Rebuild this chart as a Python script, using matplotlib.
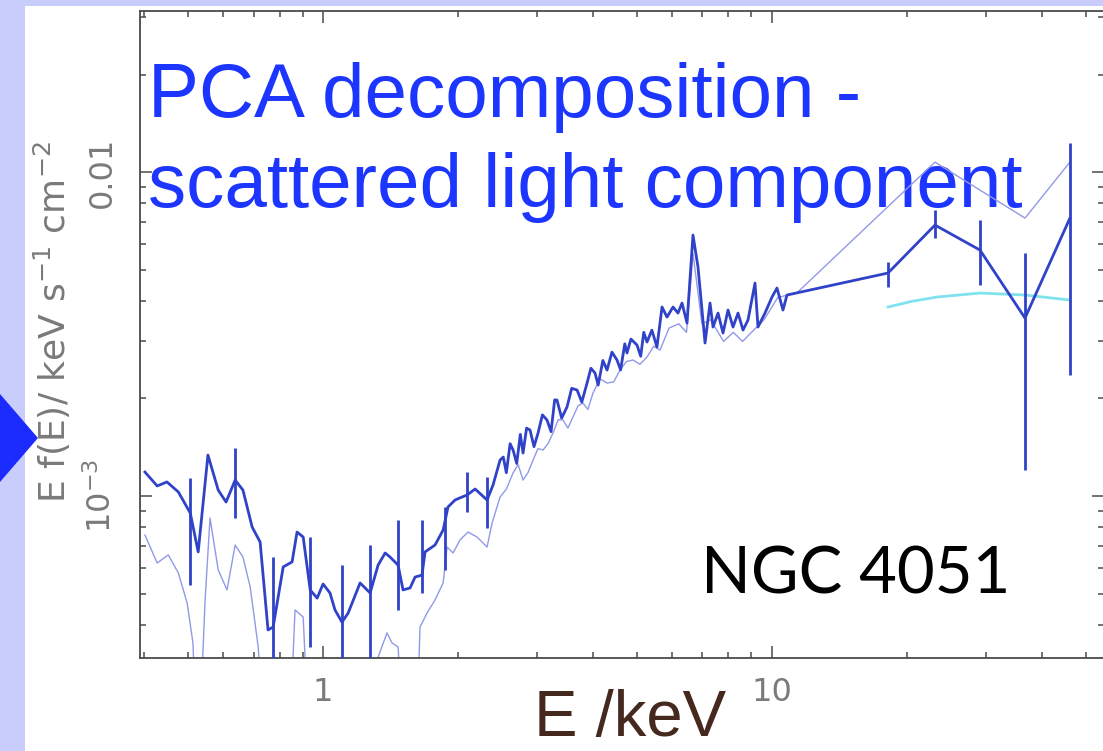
"""NGC 4051 PCA decomposition: scattered light component (E f(E) spectrum)."""

import matplotlib
matplotlib.use("Agg")
import matplotlib.pyplot as plt  # noqa: E402
import numpy as np  # noqa: E402
from matplotlib.patches import Polygon, Rectangle  # noqa: E402
from matplotlib.ticker import FixedFormatter, FixedLocator, LogLocator, NullFormatter  # noqa: E402

plt.rcParams["font.family"] = ["DejaVu Sans"]

W, H = 1103, 751

SLIDE_BG = "#c9cdfb"
TITLE_BLUE = "#1c35ff"
DATA_BLUE = "#3042c8"
THIN_BLUE = "#9199e8"
CYAN = "#80e2ee"
AXIS_GREY = "#4a4a4a"
LABEL_GREY = "#7a7a7a"
BROWN = "#45291f"

# scattered-light spectrum (energy in keV, E f(E) in units of 1e-3)
dark_e = [0.401, 0.427, 0.449, 0.476, 0.506, 0.527, 0.554, 0.584, 0.608, 0.637,
          0.663, 0.695, 0.724, 0.754, 0.774, 0.815, 0.853, 0.875, 0.903, 0.936,
          0.970, 1.000, 1.036, 1.063, 1.102, 1.137, 1.209, 1.273, 1.326, 1.375,
          1.410, 1.469, 1.507, 1.562, 1.603, 1.661, 1.687, 1.776, 1.851, 1.898,
          1.968, 2.040, 2.093, 2.181, 2.319, 2.391, 2.479, 2.52, 2.56, 2.61,
          2.650, 2.70, 2.75, 2.789, 2.84, 2.891, 2.95, 3.012, 3.08, 3.154,
          3.22, 3.28, 3.319, 3.40, 3.494, 3.58, 3.679, 3.77, 3.873, 3.95,
          4.034, 4.10, 4.20, 4.291, 4.40, 4.516, 4.60, 4.70, 4.753, 4.85,
          5.004, 5.10, 5.18, 5.267, 5.40, 5.543, 5.689, 5.837, 6.019, 6.175,
          6.303, 6.467, 6.668, 6.842, 6.984, 7.093, 7.277, 7.390, 7.582, 7.779,
          7.981, 8.188, 8.401, 8.619, 8.842, 9.165, 9.307, 9.647, 10.0, 10.26,
          10.58, 10.80, 18.13, 23.07, 29.06, 36.61, 46.10]
dark_f = [1.186, 1.074, 1.105, 1.029, 0.886, 0.672, 1.338, 1.043, 0.958, 1.120,
          1.043, 0.802, 0.721, 0.386, 0.394, 0.604, 0.626, 0.774, 0.747, 0.513,
          0.484, 0.535, 0.502, 0.445, 0.408, 0.435, 0.539, 0.502, 0.612, 0.667,
          0.648, 0.612, 0.513, 0.520, 0.562, 0.570, 0.672, 0.706, 0.785, 0.925,
          0.972, 0.993, 1.007, 1.051, 0.972, 1.081, 1.291, 1.319, 1.18, 1.45,
          1.387, 1.26, 1.55, 1.357, 1.62, 1.598, 1.42, 1.564, 1.78, 1.716,
          1.58, 1.98, 1.978, 1.74, 1.882, 2.15, 2.124, 1.95, 2.232, 2.48,
          2.397, 2.20, 2.62, 2.448, 2.78, 2.629, 2.45, 2.95, 2.763, 3.05,
          2.924, 2.70, 3.20, 2.987, 3.25, 2.883, 3.831, 3.567, 3.831, 3.670,
          3.941, 3.419, 6.389, 5.090, 3.750, 2.966, 3.941, 3.323, 3.670, 3.184,
          3.750, 3.323, 3.670, 3.252, 3.492, 4.543, 3.323, 3.670, 4.113, 4.385,
          3.750, 4.172, 4.878, 6.859, 5.743, 3.542, 7.209]

# error bars on selected bins (same units)
err_e = [0.506, 0.637, 0.774, 0.936, 1.102, 1.273, 1.469, 1.661, 1.870, 2.093,
         2.319, 18.13, 23.07, 29.06, 36.61, 46.10]
err_lo = [0.531, 0.855, 0.25, 0.342, 0.25, 0.25, 0.445, 0.502, 0.591, 0.892,
          0.796, 4.416, 6.256, 4.479, 1.203, 2.362]
err_hi = [1.137, 1.406, 0.648, 0.747, 0.612, 0.706, 0.843, 0.843, 0.925, 1.186,
          1.145, 5.275, 7.632, 7.109, 5.623, 12.29]

# faint comparison spectrum
thin_e = [0.401, 0.427, 0.452, 0.476, 0.498, 0.513, 0.521, 0.532, 0.546, 0.560,
          0.584, 0.611, 0.637, 0.663, 0.688, 0.717, 0.735, 0.845, 0.866, 0.903,
          0.926, 1.306, 1.326, 1.388, 1.424, 1.469, 1.507, 1.620, 1.644, 1.704,
          1.776, 1.851, 1.889, 1.948, 2.019, 2.103, 2.203, 2.319, 2.379, 2.479,
          2.56, 2.650, 2.72, 2.789, 2.86, 2.936, 3.01, 3.090, 3.17, 3.252,
          3.34, 3.423, 3.51, 3.603, 3.70, 3.793, 3.89, 3.993, 4.14, 4.291,
          4.44, 4.586, 4.74, 4.902, 5.08, 5.267, 5.45, 5.630, 5.9, 6.2,
          6.45, 6.67, 6.98, 7.3, 7.8, 8.2, 8.6, 9.0, 9.6, 10.3,
          11.37, 23.07, 36.61, 46.10]
thin_f = [0.758, 0.621, 0.658, 0.579, 0.467, 0.352, 0.2, 0.2, 0.478, 0.855,
          0.591, 0.513, 0.706, 0.648, 0.524, 0.342, 0.2, 0.2, 0.445, 0.423,
          0.2, 0.2, 0.318, 0.378, 0.352, 0.342, 0.2, 0.2, 0.394, 0.435,
          0.478, 0.539, 0.696, 0.667, 0.732, 0.774, 0.747, 0.696, 0.825, 0.993,
          1.05, 1.178, 1.25, 1.120, 1.18, 1.291, 1.40, 1.387, 1.45, 1.564,
          1.72, 1.716, 1.62, 1.753, 1.90, 1.936, 1.85, 2.079, 2.30, 2.232,
          2.25, 2.448, 2.60, 2.629, 2.55, 2.685, 2.90, 2.822, 3.3, 3.4,
          3.2, 5.6, 3.4, 3.5, 3.0, 3.2, 3.0, 3.2, 3.5, 4.1,
          4.24, 10.73, 7.209, 10.73]

# model continuum over the high-energy band
cyan_e = [18.13, 20.5, 23.31, 29.06, 36.61, 46.10]
cyan_f = [3.831, 3.99, 4.113, 4.231, 4.172, 4.026]

x_ticks = [1, 10]
x_tick_labels = ["1", "10"]
y_ticks = [1e-3, 1e-2]
y_tick_labels = [r"$10^{-3}$", "0.01"]


def px_box(x0, y0, x1, y1):
    """Figure-fraction rectangle from pixel edges (y measured from top)."""
    return [x0 / W, 1 - y1 / H, (x1 - x0) / W, (y1 - y0) / H]


fig = plt.figure(figsize=(W / 100, H / 100), dpi=100)
fig.patch.set_facecolor(SLIDE_BG)
fig.add_artist(Rectangle((25 / W, 0), 1, 1 - 6 / H, transform=fig.transFigure,
                         facecolor="white", edgecolor="none", zorder=-1))
fig.add_artist(Polygon([(0, 1 - 394 / H), (38 / W, 1 - 438 / H), (0, 1 - 482 / H)],
                       closed=True, transform=fig.transFigure,
                       facecolor="#1c2cff", edgecolor="none", zorder=5))

ax = fig.add_axes(px_box(140, 11, 1104, 658))
ax.set_facecolor("white")
ax.set_xscale("log")
ax.set_yscale("log")

scale = 1e-3
ax.plot(thin_e, np.array(thin_f) * scale, color=THIN_BLUE, lw=1.0, zorder=2)
ax.plot(cyan_e, np.array(cyan_f) * scale, color=CYAN, lw=2.0, zorder=2)
ax.vlines(err_e, np.array(err_lo) * scale, np.array(err_hi) * scale,
          color=DATA_BLUE, lw=2.0, zorder=3)
ax.plot(dark_e, np.array(dark_f) * scale, color=DATA_BLUE, lw=2.0, zorder=3)

ax.set_xlim(0.391, 54.9)
ax.set_ylim(3.162e-4, 0.03141)

ax.xaxis.set_major_locator(FixedLocator(x_ticks))
ax.xaxis.set_major_formatter(FixedFormatter(x_tick_labels))
ax.xaxis.set_minor_locator(LogLocator(base=10, subs=range(2, 10), numticks=20))
ax.xaxis.set_minor_formatter(NullFormatter())
ax.yaxis.set_major_locator(FixedLocator(y_ticks))
ax.yaxis.set_major_formatter(FixedFormatter(y_tick_labels))
ax.yaxis.set_minor_locator(LogLocator(base=10, subs=range(2, 10), numticks=20))
ax.yaxis.set_minor_formatter(NullFormatter())

ax.tick_params(which="both", direction="in", top=True, right=True,
               color=AXIS_GREY, labelcolor=LABEL_GREY, labelsize=23)
ax.tick_params(which="major", length=8.6, width=1.1)
ax.tick_params(which="minor", length=4.3, width=1.1)
ax.tick_params(axis="x", pad=14)
ax.tick_params(axis="y", pad=16, labelrotation=90)
for lbl in ax.get_yticklabels():
    lbl.set_va("center")
for side in ax.spines.values():
    side.set_color(AXIS_GREY)
    side.set_linewidth(1.3)

fig.text(52 / W, 1 - 322 / H, r"E f(E)/ keV s$^{-1}$ cm$^{-2}$", rotation=90,
         ha="center", va="center", fontsize=26, color=LABEL_GREY)

# slide overlays
ax.text(148 / W, 1 - 117 / H, "PCA decomposition -", transform=fig.transFigure,
        family="Liberation Sans", fontsize=55, color=TITLE_BLUE,
        ha="left", va="baseline", zorder=1)
ax.text(148 / W, 1 - 207 / H, "scattered light component", transform=fig.transFigure,
        family="Liberation Sans", fontsize=55, color=TITLE_BLUE,
        ha="left", va="baseline", zorder=1)
ax.text(701 / W, 1 - 593 / H, "NGC 4051", transform=fig.transFigure,
        family="Lato", fontsize=47, color="black", ha="left", va="baseline", zorder=4)
fig.text(534 / W, 1 - 736 / H, "E /keV", family="Liberation Sans", fontsize=47,
         color=BROWN, ha="left", va="baseline")

fig.savefig("out.png", dpi=100, facecolor=fig.get_facecolor())
plt.close(fig)
